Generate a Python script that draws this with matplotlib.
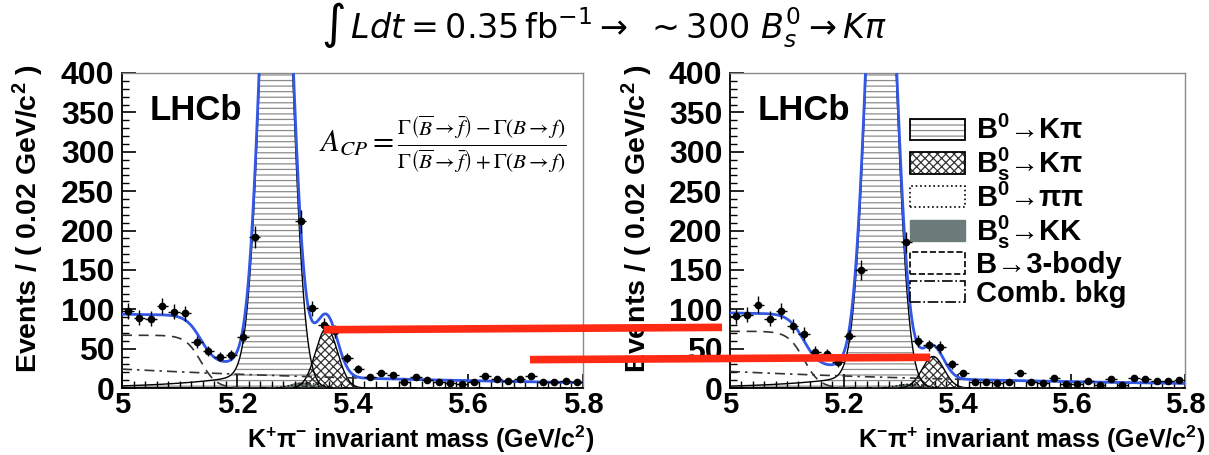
import numpy as np
import matplotlib
matplotlib.use("Agg")
import matplotlib.pyplot as plt
from matplotlib.patches import Patch, ConnectionPatch
from matplotlib.ticker import MultipleLocator, FuncFormatter

plt.rcParams['font.family'] = ['Liberation Sans', 'DejaVu Sans']
plt.rcParams['mathtext.fontset'] = 'custom'
plt.rcParams['mathtext.rm'] = 'Liberation Sans:bold'
plt.rcParams['mathtext.it'] = 'Liberation Sans:italic:bold'
plt.rcParams['mathtext.bf'] = 'Liberation Sans:bold'
plt.rcParams['hatch.linewidth'] = 0.9

# binning: 40 bins of 0.02 GeV/c2 between 5.0 and 5.8
bin_edges = np.linspace(5.0, 5.8, 41)
bin_centers = 0.5 * (bin_edges[:-1] + bin_edges[1:])

# events per bin (3 central bins are off scale)
counts_kpi = [98, 89, 88, 104, 97, 95, 58, 47, 40, 42,
              65, 192, 600, 790, 530, 212, 101, 80, 72, 38,
              24, 14, 19, 16, 8, 14, 10, 8, 6, 5,
              8, 15, 12, 9, 11, 15, 8, 7, 9, 7]
counts_kbarpi = [91, 93, 106, 88, 98, 79, 69, 46, 43, 33,
                 66, 150, 560, 720, 500, 185, 60, 54, 52, 30,
                 19, 8, 7, 6, 8, 19, 7, 6, 13, 5,
                 5, 9, 4, 12, 4, 13, 11, 9, 9, 10]

# fit components: gaussians [amp, mean, sigma], tail [amp, slope],
# 3-body edge [plateau, edge, width], combinatorial [amp at 5.0, slope]
left_b0kpi = [800, 5.268, 0.024]
left_b0kpi_tail = [25, 0.12]
left_bskpi = [76, 5.355, 0.019]
left_b0pipi = [6, 5.32, 0.025]
left_bskk = [8, 5.31, 0.02]
left_3body = [67, 5.137, 0.0134]
left_comb = [24, 1.57]

right_b0kpi = [720, 5.266, 0.024]
right_b0kpi_tail = [22, 0.12]
right_bskpi = [40, 5.357, 0.019]
right_b0pipi = [5, 5.32, 0.025]
right_bskk = [6, 5.31, 0.02]
right_3body = [72, 5.13, 0.014]
right_comb = [21, 1.6]

mass = np.linspace(5.0, 5.8, 801)


def gauss(x, p):
    return p[0] * np.exp(-0.5 * ((x - p[1]) / p[2]) ** 2)


def draw_panel(ax, counts, b0kpi, tail, bskpi, b0pipi, bskk, body3, comb):
    sig = gauss(mass, b0kpi) + np.where(mass < b0kpi[1],
                                        tail[0] * np.exp((mass - b0kpi[1]) / tail[1]), 0)
    bs = gauss(mass, bskpi)
    pipi = gauss(mass, b0pipi)
    kk = gauss(mass, bskk)
    threebody = body3[0] / (1 + np.exp((mass - body3[1]) / body3[2]))
    combbkg = comb[0] * np.exp(-comb[1] * (mass - 5.0))
    total = sig + bs + pipi + kk + threebody + combbkg

    ax.fill_between(mass, 0, sig, facecolor='white', edgecolor='#8c8c8c',
                    hatch='---', linewidth=0, zorder=1)
    ax.plot(mass, sig, color='black', lw=1, zorder=2)
    ax.fill_between(mass, 0, kk, facecolor='#6e7b7b', edgecolor='#6e7b7b',
                    linewidth=0, zorder=1.5)
    ax.fill_between(mass, 0, bs, facecolor='none', edgecolor='#333333',
                    hatch='xxxx', linewidth=0, zorder=1.7)
    ax.plot(mass, bs, color='black', lw=1, zorder=2)
    ax.plot(mass, pipi, color='black', lw=1, ls=':', zorder=3)
    ax.plot(mass, threebody, color='#333333', lw=1.2, ls=(0, (6, 4)), zorder=3)
    ax.plot(mass, combbkg, color='#333333', lw=1.2, ls=(0, (6, 3, 1.5, 3)), zorder=3)
    ax.plot(mass, total, color='#3458e6', lw=2, zorder=5)

    counts = np.array(counts, dtype=float)
    ax.errorbar(bin_centers, counts, yerr=np.sqrt(counts), xerr=0.01, fmt='o',
                color='black', ms=4.5, elinewidth=1, capsize=0, zorder=6)

    ax.set_xlim(5.0, 5.8)
    ax.set_ylim(0, 400)
    ax.xaxis.set_major_locator(MultipleLocator(0.2))
    ax.xaxis.set_minor_locator(MultipleLocator(0.02))
    ax.yaxis.set_major_locator(MultipleLocator(50))
    ax.yaxis.set_minor_locator(MultipleLocator(10))
    ax.xaxis.set_major_formatter(FuncFormatter(lambda v, p: f"{v:g}"))
    ax.tick_params(which='major', direction='in', length=10, width=1.2,
                   labelsize=23, pad=5.5, top=False, right=False)
    ax.tick_params(axis='x', which='major', labelsize=21, pad=2)
    ax.tick_params(which='minor', direction='in', length=5, width=1,
                   top=False, right=False)
    for lab in ax.get_xticklabels() + ax.get_yticklabels():
        lab.set_fontweight('bold')
    for s in ['left', 'bottom']:
        ax.spines[s].set_linewidth(1.3)
    for s in ['top', 'right']:
        ax.spines[s].set_color('#8a8a8a')
        ax.spines[s].set_linewidth(1)
    ax.set_ylabel(r"Events / ( 0.02 GeV/c$^2$ )", fontsize=20.5,
                  fontweight='bold', loc='top')
    ax.yaxis.set_label_coords(-0.165, 1.03)
    ax.text(0.06, 0.88, "LHCb", transform=ax.transAxes, fontsize=25,
            fontweight='bold', va='center', ha='left')


fig = plt.figure(figsize=(12.09, 4.55), dpi=100)
ax1 = fig.add_axes([122 / 1209, 1 - 388 / 455, 461 / 1209, 315 / 455])
ax2 = fig.add_axes([730 / 1209, 1 - 388 / 455, 455 / 1209, 315 / 455])

draw_panel(ax1, counts_kpi, left_b0kpi, left_b0kpi_tail, left_bskpi,
           left_b0pipi, left_bskk, left_3body, left_comb)
draw_panel(ax2, counts_kbarpi, right_b0kpi, right_b0kpi_tail, right_bskpi,
           right_b0pipi, right_bskk, right_3body, right_comb)

ax1.set_xlabel(r"K$^{+}$π$^{-}$ invariant mass (GeV/c$^2$)", fontsize=18,
               fontweight='bold', loc='right')
ax1.xaxis.set_label_coords(1.026, -0.113)
ax2.set_xlabel(r"K$^{-}$π$^{+}$ invariant mass (GeV/c$^2$)", fontsize=18,
               fontweight='bold', loc='right')
ax2.xaxis.set_label_coords(1.044, -0.113)

ax1.text(0.696, 0.775,
         r"$A_{CP} = \frac{\Gamma\left(\overline{B} \rightarrow \bar{f}\right) - \Gamma\left(B \rightarrow f\right)}"
         r"{\Gamma\left(\overline{B} \rightarrow \bar{f}\right) + \Gamma\left(B \rightarrow f\right)}$",
         transform=ax1.transAxes, fontsize=22, ha='center', va='center',
         math_fontfamily='stix')

fig.text(0.5, 0.945,
         r"$\int\, Ldt = 0.35\,\mathrm{fb}^{-1} \rightarrow\ \sim 300\ B_s^0 \rightarrow K\pi$",
         fontsize=24, ha='center', va='center', math_fontfamily='dejavusans')

# legend
handles = [
    (Patch(facecolor='white', edgecolor='#8c8c8c', hatch='---', lw=0),
     Patch(facecolor='none', edgecolor='black', lw=1.3)),
    (Patch(facecolor='white', edgecolor='#333333', hatch='xxxx', lw=0),
     Patch(facecolor='none', edgecolor='black', lw=1.3)),
    Patch(facecolor='white', edgecolor='black', ls=':', lw=1.2),
    Patch(facecolor='#6e7b7b', edgecolor='#6e7b7b'),
    Patch(facecolor='white', edgecolor='black', ls='--', lw=1.2),
    Patch(facecolor='white', edgecolor='black', ls='-.', lw=1.2),
]
labels = ["B$^0$→Kπ", r"B$_\mathrm{s}^0$→Kπ", "B$^0$→ππ", r"B$_\mathrm{s}^0$→KK",
          "B→3-body", "Comb. bkg"]
ax2.legend(handles, labels, loc='upper left', bbox_to_anchor=(0.37, 0.90),
           frameon=False, prop={'size': 21, 'weight': 'bold'},
           handlelength=1.9, handleheight=0.75, labelspacing=0.02,
           handletextpad=0.35, borderaxespad=0)

# red guide lines between the two Bs peaks
red1 = ConnectionPatch(xyA=(5.35, 74), coordsA=ax1.transData,
                       xyB=(4.986, 77), coordsB=ax2.transData,
                       color='#ff2a14', lw=5.5, capstyle='butt', zorder=10)
red2 = ConnectionPatch(xyA=(5.708, 36), coordsA=ax1.transData,
                       xyB=(5.352, 39), coordsB=ax2.transData,
                       color='#ff2a14', lw=5.5, capstyle='butt', zorder=10)
fig.add_artist(red1)
fig.add_artist(red2)

fig.savefig("out.png", dpi=100)
